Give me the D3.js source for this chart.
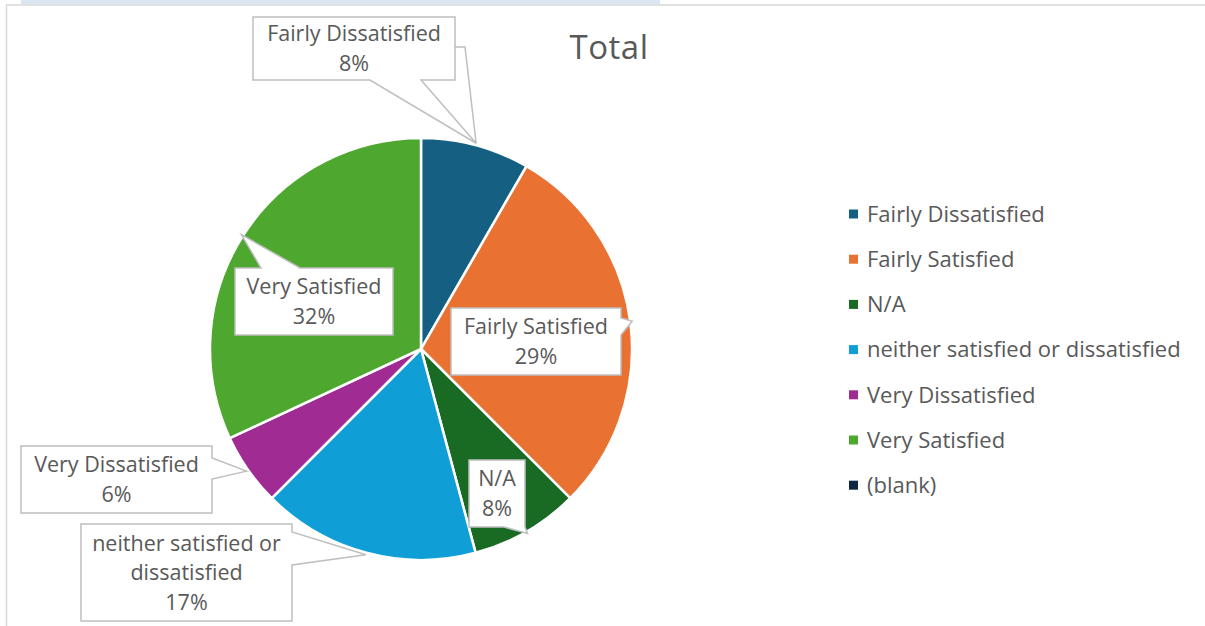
<!DOCTYPE html>
<html>
<head>
<meta charset="utf-8">
<script src="https://cdn.jsdelivr.net/npm/d3@7"></script>
<style>
  body { margin: 0; background: #fff; }
  text { font-family: "Open Sans", Lato, sans-serif; fill: #595959; }
</style>
</head>
<body>
<svg id="chart"></svg>
<script>
// data (counts out of 72)
let categories = ["Fairly Dissatisfied", "Fairly Satisfied", "N/A",
                  "neither satisfied or dissatisfied", "Very Dissatisfied", "Very Satisfied", "(blank)"];
let counts = [6, 21, 6, 12, 4, 23, 0];
let colors = ["#156082", "#E97132", "#196B24", "#0F9ED5", "#A02B93", "#4EA72E", "#0E2841"];
let calloutLines = [
  ["Fairly Dissatisfied"], ["Fairly Satisfied"], ["N/A"],
  ["neither satisfied or", "dissatisfied"], ["Very Dissatisfied"], ["Very Satisfied"], []
];

let width = 1205, height = 626,
    cx = 421, cy = 349, radius = 211;

// callout boxes (layout only)
let boxes = {
  "Fairly Dissatisfied": {x: 253, y: 17, w: 202, h: 63, side: "bottom", a: 370, b: 421, extra: true},
  "Fairly Satisfied": {x: 451, y: 308, w: 170, h: 67, side: "right", a: 318, b: 335},
  "N/A": {x: 469, y: 460, w: 56, h: 67, side: "bottom", a: 504, b: 525},
  "neither satisfied or dissatisfied": {x: 81, y: 524, w: 211, h: 97, side: "right", a: 532, b: 565},
  "Very Dissatisfied": {x: 21, y: 446, w: 191, h: 67, side: "right", a: 458, b: 479},
  "Very Satisfied": {x: 235, y: 268, w: 158, h: 67, side: "top", a: 261, b: 300}
};

let svg = d3.select("#chart").attr("width", width).attr("height", height);

// frame
svg.append("rect").attr("x", 21).attr("y", 0).attr("width", 639).attr("height", 4).attr("fill", "#dce6f2");
svg.append("line").attr("x1", 6).attr("x2", width).attr("y1", 5).attr("y2", 5)
  .attr("stroke", "#d9d9d9").attr("stroke-width", 1.5);
svg.append("line").attr("x1", 6.5).attr("x2", 6.5).attr("y1", 5).attr("y2", height)
  .attr("stroke", "#d9d9d9").attr("stroke-width", 1.5);

// title
svg.append("text").attr("x", 609).attr("y", 59).attr("text-anchor", "middle")
  .style("font-size", "33px").style("letter-spacing", "0.5px").text("Total");

let data = categories.map(function(c, i) { return {name: c, value: counts[i], color: colors[i], lines: calloutLines[i]}; });

let pie = d3.pie().sort(null).value(function(d) { return d.value; });
let arc = d3.arc().innerRadius(0).outerRadius(radius);
let arcs = pie(data);
let total = d3.sum(counts);

let g = svg.append("g").attr("transform", "translate(" + cx + "," + cy + ")");
g.selectAll("path.slice")
  .data(arcs.filter(function(d) { return d.value > 0; }))
  .enter().append("path")
    .attr("class", "slice")
    .attr("d", arc)
    .attr("fill", function(d) { return d.data.color; })
    .attr("stroke", "#fff")
    .attr("stroke-width", 2.5);

// callouts
function calloutPath(b, tx, ty) {
  let x0 = b.x, y0 = b.y, x1 = b.x + b.w, y1 = b.y + b.h;
  let pts = [[x0, y0]];
  if (b.side == "top") pts.push([b.a, y0], [tx, ty], [b.b, y0]);
  pts.push([x1, y0]);
  if (b.side == "right") pts.push([x1, b.a], [tx, ty], [x1, b.b]);
  pts.push([x1, y1]);
  if (b.side == "bottom") pts.push([b.b, y1], [tx, ty], [b.a, y1]);
  pts.push([x0, y1]);
  return "M" + pts.map(function(p) { return p.join(","); }).join("L") + "Z";
}

arcs.filter(function(d) { return d.value > 0; }).forEach(function(d) {
  let b = boxes[d.data.name];
  let mid = (d.startAngle + d.endAngle) / 2;
  let tx = cx + Math.sin(mid) * (radius + 2),
      ty = cy - Math.cos(mid) * (radius + 2);

  if (b.extra) {
    svg.append("path")
      .attr("d", "M" + (b.x + b.w) + "," + (b.y + 30) + "L" + (b.x + b.w + 10) + "," + (b.y + 30) + "L" + tx + "," + ty)
      .attr("fill", "none").attr("stroke", "#bfbfbf").attr("stroke-width", 1.5);
  }
  svg.append("path")
    .attr("d", calloutPath(b, tx, ty))
    .attr("fill", "#fff").attr("stroke", "#bfbfbf").attr("stroke-width", 1.5);

  let lines = d.data.lines.concat([Math.round(d.value / total * 100) + "%"]);
  let lh = 29.5, top = b.y + b.h / 2 - (lines.length - 1) * lh / 2;
  lines.forEach(function(l, i) {
    svg.append("text")
      .attr("x", b.x + b.w / 2).attr("y", top + i * lh)
      .attr("dy", "0.35em").attr("text-anchor", "middle")
      .style("font-size", "21.5px").text(l);
  });
});

// legend
let legend = svg.append("g").attr("transform", "translate(849,214)");
let items = legend.selectAll("g").data(data).enter().append("g")
  .attr("transform", function(d, i) { return "translate(0," + (i * 45.2) + ")"; });
items.append("rect").attr("x", 0).attr("y", -4.5).attr("width", 9).attr("height", 9)
  .attr("fill", function(d) { return d.color; });
items.append("text").attr("x", 18).attr("y", 0).attr("dy", "0.35em")
  .style("font-size", "22px").text(function(d) { return d.name; });
</script>
</body>
</html>
